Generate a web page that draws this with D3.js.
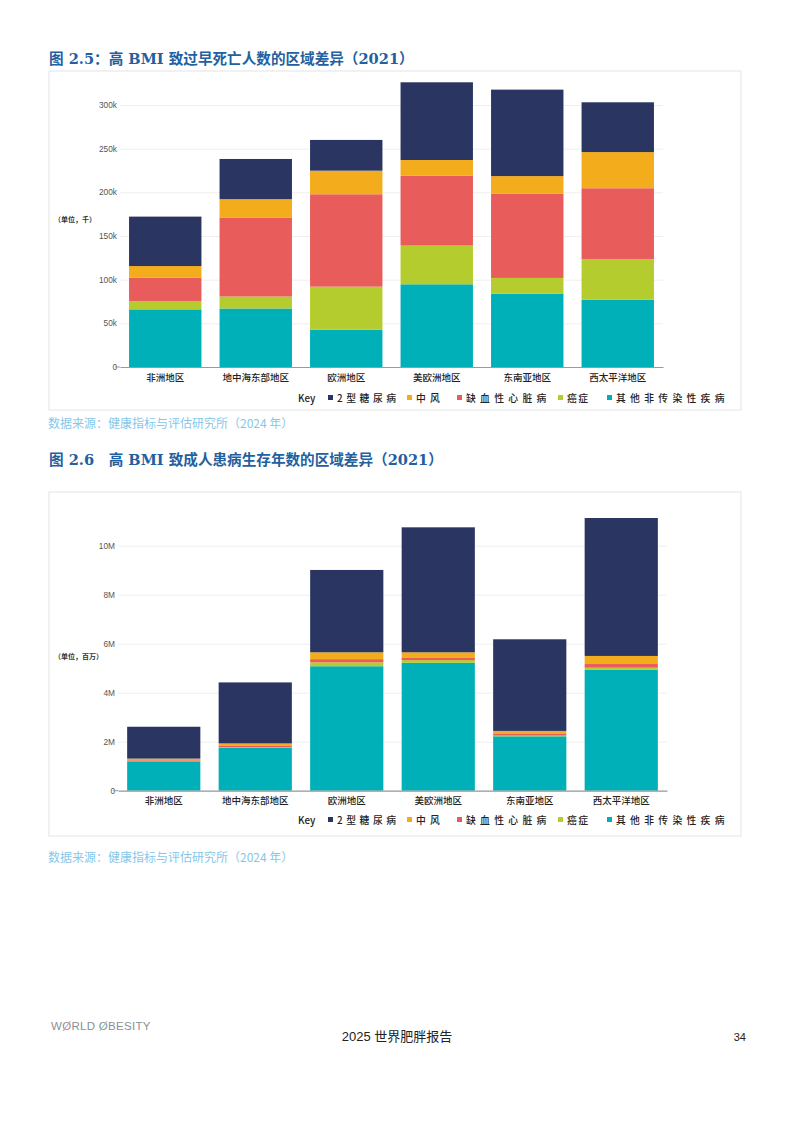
<!DOCTYPE html>
<html>
<head>
<meta charset="utf-8">
<title>高 BMI 区域差异</title>
<script src="https://cdn.jsdelivr.net/npm/d3@7/dist/d3.min.js"></script>
<style>
  body { margin: 0; background: #fff; }
  svg { display: block; }
  .title { font-family: "DejaVu Serif", "Noto Sans CJK SC", serif; font-weight: bold; font-size: 14.6px; fill: #23609f; }
  .source { font-family: "Noto Sans CJK SC", sans-serif; font-size: 12px; fill: #86c8ea; }
  .tick text { font-family: "Liberation Sans", Arial, sans-serif; font-size: 8.3px; fill: #555; }
  .xlab text { font-family: "Noto Sans CJK SC", sans-serif; font-size: 9.5px; font-weight: 500; fill: #222; }
  .unit { font-family: "Noto Sans CJK SC", sans-serif; font-size: 7px; font-weight: bold; fill: #333; }
  .legend text { font-family: "Noto Sans CJK SC", sans-serif; font-size: 9.8px; font-weight: 500; fill: #222; }
  .key { font-family: "Liberation Sans", Arial, sans-serif; font-size: 9px; font-weight: bold; fill: #222; }
  .footer { font-family: "Liberation Sans", "Noto Sans CJK SC", sans-serif; fill: #222; }
</style>
</head>
<body>
<svg id="page" width="793" height="1122"></svg>
<script>
// regions and causes (stack order: bottom to top)
var regions = ['非洲地区', '地中海东部地区', '欧洲地区', '美欧洲地区', '东南亚地区', '西太平洋地区'];
var causes = ['其他非传染性疾病', '癌症', '缺血性心脏病', '中风', '2型糖尿病'];
var causeColors = ['#00b0b9', '#b5cc2e', '#e95c5c', '#f2ac1c', '#2b3561'];

// legend order and labels
var legendCauses = ['2型糖尿病', '中风', '缺血性心脏病', '癌症', '其他非传染性疾病'];

// fig 2.5: premature deaths (thousands)
var deathsOther = [66, 67, 42.7, 94.7, 84, 77];
var deathsCancer = [9.6, 13.7, 49.3, 44.3, 18, 46.7];
var deathsIHD = [26.6, 90.5, 105.8, 80, 96.6, 81];
var deathsStroke = [13.4, 21, 27, 18, 20, 41.4];
var deathsDiabetes = [56.6, 46, 35.2, 89, 99, 57];
var deathsTicks = [0, 50, 100, 150, 200, 250, 300];

// fig 2.6: years lived with disability (millions)
var yldOther = [1.20, 1.75, 5.08, 5.22, 2.22, 4.93];
var yldCancer = [0.01, 0.02, 0.16, 0.11, 0.03, 0.09];
var yldIHD = [0.03, 0.08, 0.13, 0.11, 0.09, 0.15];
var yldStroke = [0.07, 0.08, 0.28, 0.21, 0.10, 0.33];
var yldDiabetes = [1.30, 2.49, 3.36, 5.10, 3.74, 5.63];
var yldTicks = [0, 2, 4, 6, 8, 10];

var svg = d3.select('#page');

function drawChart(cfg) {
  var g = svg.append('g');

  g.append('text').attr('class', 'title')
    .attr('x', 49).attr('y', cfg.titleY)
    .text(cfg.title);

  g.append('rect')
    .attr('x', cfg.frame[0]).attr('y', cfg.frame[1])
    .attr('width', cfg.frame[2] - cfg.frame[0]).attr('height', cfg.frame[3] - cfg.frame[1])
    .attr('fill', '#fff').attr('stroke', '#e4e4e4').attr('stroke-width', 1);

  var x = d3.scaleBand().domain(regions)
    .range([cfg.left, cfg.right])
    .paddingInner(0.2).paddingOuter(0.1);

  var y = d3.scaleLinear().domain([0, cfg.tickVals[cfg.tickVals.length - 1]])
    .range([cfg.base, cfg.topTick]);

  // gridlines + y labels
  var yAxis = g.append('g')
    .attr('transform', 'translate(' + cfg.left + ',0)')
    .call(d3.axisLeft(y).tickValues(cfg.tickVals)
      .tickSize(-(cfg.right - cfg.left)).tickPadding(3)
      .tickFormat(d => d === 0 ? '0' : d + cfg.suffix));
  yAxis.select('.domain').remove();
  yAxis.selectAll('.tick line').attr('stroke', '#efefef');
  yAxis.selectAll('.tick text').attr('x', -3);

  // stacked bars
  var rows = regions.map((r, i) => {
    var o = { region: r };
    causes.forEach((c, j) => { o[c] = cfg.series[j][i]; });
    return o;
  });
  var stacked = d3.stack().keys(causes)(rows);

  g.append('g').selectAll('g')
    .data(stacked)
    .join('g')
    .attr('fill', (d, i) => causeColors[i])
    .selectAll('rect')
    .data(d => d)
    .join('rect')
    .attr('x', d => x(d.data.region))
    .attr('y', d => y(d[1]))
    .attr('width', x.bandwidth())
    .attr('height', d => y(d[0]) - y(d[1]));

  // x axis
  var xAxis = g.append('g').attr('class', 'xlab')
    .attr('transform', 'translate(0,' + cfg.base + ')')
    .call(d3.axisBottom(x).tickSize(0).tickPadding(7));
  xAxis.select('.domain').attr('stroke', '#9a9a9a').attr('stroke-width', 1.2);
  xAxis.selectAll('text').attr('class', null);

  // zero tick dash
  g.append('line')
    .attr('x1', cfg.left - 5).attr('x2', cfg.left)
    .attr('y1', y(0)).attr('y2', y(0))
    .attr('stroke', '#9a9a9a');

  g.append('text').attr('class', 'unit')
    .attr('x', 54).attr('y', cfg.unitY)
    .text(cfg.unit);

  // legend
  var leg = g.append('g').attr('class', 'legend');
  leg.append('text').attr('class', 'key')
    .attr('x', 298).attr('y', cfg.legendY + 3.5).text('Key');
  var legendX = [328, 407, 457, 558, 607];
  var spacing = [3.6, 4.2, 4.3, 1.5, 4.3];
  legendCauses.forEach((c, i) => {
    var col = causeColors[causes.indexOf(c)];
    leg.append('rect')
      .attr('x', legendX[i]).attr('y', cfg.legendY - 3)
      .attr('width', 5).attr('height', 5)
      .attr('fill', col);
    leg.append('text')
      .attr('x', legendX[i] + 9).attr('y', cfg.legendY + 3.5)
      .style('letter-spacing', spacing[i] + 'px')
      .text(c);
  });

  g.append('text').attr('class', 'source')
    .attr('x', 48).attr('y', cfg.sourceY)
    .text('数据来源：健康指标与评估研究所（2024 年）');
}

drawChart({
  title: '图 2.5：高 BMI 致过早死亡人数的区域差异（2021）',
  titleY: 64,
  frame: [49, 71, 741, 410],
  left: 120, right: 663,
  base: 367, topTick: 105,
  tickVals: deathsTicks, suffix: 'k',
  series: [deathsOther, deathsCancer, deathsIHD, deathsStroke, deathsDiabetes],
  unit: '（单位，千）', unitY: 222,
  legendY: 398,
  sourceY: 428
});

drawChart({
  title: '图 2.6　高 BMI 致成人患病生存年数的区域差异（2021）',
  titleY: 465,
  frame: [49, 492, 741, 836],
  left: 118, right: 667,
  base: 790.7, topTick: 545.7,
  tickVals: yldTicks, suffix: 'M',
  series: [yldOther, yldCancer, yldIHD, yldStroke, yldDiabetes],
  unit: '（单位，百万）', unitY: 659,
  legendY: 820,
  sourceY: 862
});

// footer
var logo = svg.append('text')
  .attr('x', 51).attr('y', 1030)
  .attr('font-family', '"Liberation Sans", Arial, sans-serif')
  .attr('font-size', 11.5).attr('fill', '#8a8f96')
  .attr('letter-spacing', '0.3px')
  .text('WORLD OBESITY');
var node = logo.node();
[[1, '#e79aa6'], [6, '#8fd0b0']].forEach(p => {
  var b = node.getExtentOfChar(p[0]);
  svg.append('line')
    .attr('x1', b.x + 1).attr('y1', b.y + b.height - 1)
    .attr('x2', b.x + b.width - 1).attr('y2', b.y + 1)
    .attr('stroke', p[1]).attr('stroke-width', 1.2);
});

svg.append('text').attr('class', 'footer')
  .attr('x', 397).attr('y', 1041).attr('text-anchor', 'middle')
  .attr('font-size', 13).text('2025 世界肥胖报告');

svg.append('text').attr('class', 'footer')
  .attr('x', 746).attr('y', 1041).attr('text-anchor', 'end')
  .attr('font-size', 11).text('34');
</script>
</body>
</html>
